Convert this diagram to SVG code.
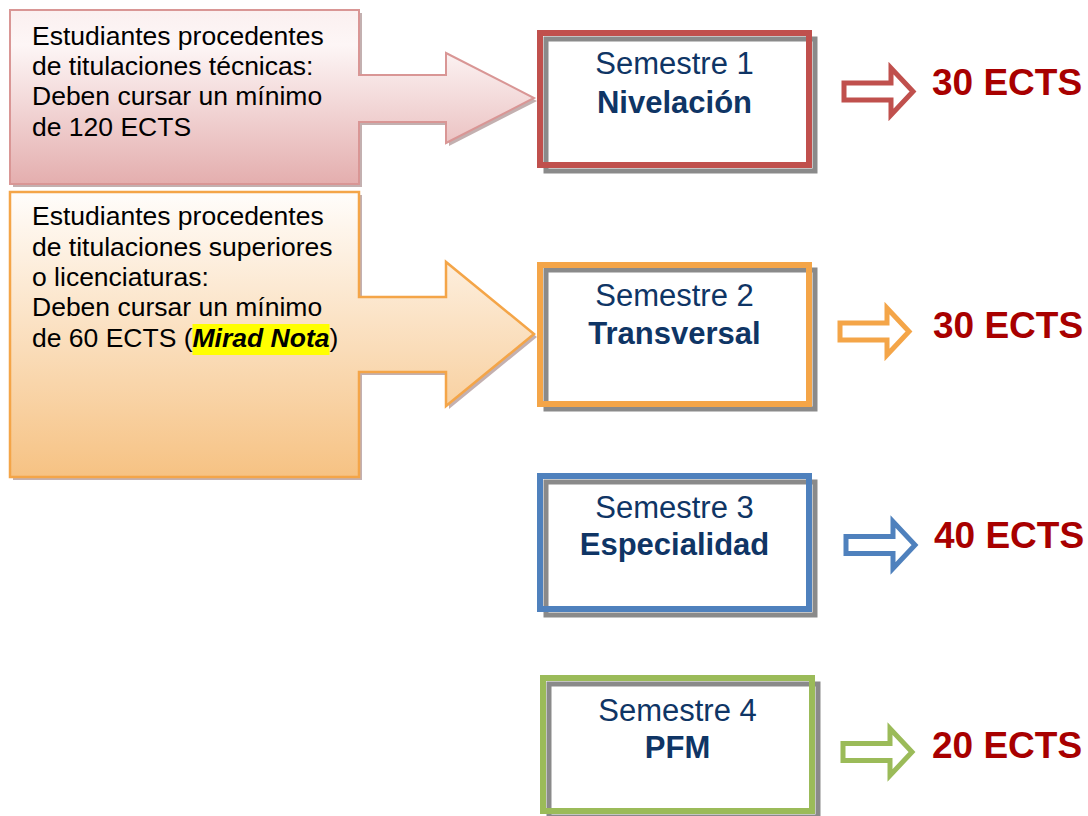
<svg xmlns="http://www.w3.org/2000/svg" xmlns:xlink="http://www.w3.org/1999/xlink" width="1088" height="816" viewBox="0 0 1088 816">
<style>
.body{font-family:"Liberation Sans",Arial,sans-serif;font-size:26.5px;fill:#000}
.sem{font-family:"Liberation Sans",Arial,sans-serif;font-size:31px;fill:#0F3565;text-anchor:middle}
.b{font-weight:bold}
.ects{font-family:"Liberation Sans",Arial,sans-serif;font-size:37px;font-weight:bold;fill:#A80000}
.frame{fill:none;stroke-width:6}
.shadow{fill:none;stroke:#8A8A8A;stroke-width:5}
.arr{fill:#fff;stroke-width:5;stroke-linejoin:miter}
</style>
<defs>
<linearGradient id="gPink" x1="0" y1="0" x2="0" y2="1">
<stop offset="0" stop-color="#FBF0F0"/>
<stop offset="0.2" stop-color="#FDF6F6"/>
<stop offset="1" stop-color="#E4AEAE"/>
</linearGradient>
<linearGradient id="gOrange" x1="0" y1="0" x2="0" y2="1">
<stop offset="0" stop-color="#FFFDFB"/>
<stop offset="1" stop-color="#F6C283"/>
</linearGradient>
<path id="arr" d="M2,-8.5 H49 V-23.5 L71,0 L49,23.5 V8.5 H2 Z"/>
</defs>
<rect width="1088" height="816" fill="#fff"/>

<g id="callout1">
<path d="M10,10 H359 V75 H446 V53 L534,98 L446,143 V122 H359 V184 H10 Z" transform="translate(3,3)" fill="#A98F8F" opacity="0.7"/>
<path d="M10,10 H359 V75 H446 V53 L534,98 L446,143 V122 H359 V184 H10 Z" fill="url(#gPink)" stroke="#D99695" stroke-width="2"/>
<text class="body" x="32" y="45">Estudiantes procedentes</text>
<text class="body" x="32" y="75">de titulaciones técnicas:</text>
<text class="body" x="32" y="105">Deben cursar un mínimo</text>
<text class="body" x="32" y="136">de 120 ECTS</text>
</g>

<g id="callout2">
<path d="M10,192 H359 V297 H446 V262 L534,334 L446,406 V372 H359 V477 H10 Z" transform="translate(3,3)" fill="#A98F8F" opacity="0.7"/>
<path d="M10,192 H359 V297 H446 V262 L534,334 L446,406 V372 H359 V477 H10 Z" fill="url(#gOrange)" stroke="#F4A548" stroke-width="2.5"/>
<rect x="192.5" y="324" width="137" height="31" fill="#FFFF00"/>
<text class="body" x="32" y="225">Estudiantes procedentes</text>
<text class="body" x="32" y="256">de titulaciones superiores</text>
<text class="body" x="32" y="286">o licenciaturas:</text>
<text class="body" x="32" y="316">Deben cursar un mínimo</text>
<text class="body" x="32" y="347">de 60 ECTS (<tspan font-weight="bold" font-style="italic">Mirad Nota</tspan>)</text>
</g>

<g id="sem1">
<rect class="shadow" x="546" y="39" width="269" height="132" stroke="#BDBDBD"/>
<rect class="frame" x="540" y="33" width="269" height="132" stroke="#C0504D"/>
<text class="sem" x="674.5" y="74">Semestre 1</text>
<text class="sem b" x="674.5" y="113">Nivelación</text>
</g>

<g id="sem2">
<rect class="shadow" x="546" y="270" width="269" height="139"/>
<rect class="frame" x="540" y="265" width="269" height="139" stroke="#F4A548"/>
<text class="sem" x="674.5" y="306">Semestre 2</text>
<text class="sem b" x="674.5" y="344">Transversal</text>
</g>

<g id="sem3">
<rect class="shadow" x="546" y="482" width="269" height="133"/>
<rect class="frame" x="540" y="476" width="269" height="133" stroke="#4F81BD"/>
<text class="sem" x="674.5" y="518">Semestre 3</text>
<text class="sem b" x="674.5" y="555">Especialidad</text>
</g>

<g id="sem4">
<rect class="shadow" x="549" y="684" width="269" height="133"/>
<rect class="frame" x="543" y="678" width="269" height="133" stroke="#9BBB59"/>
<text class="sem" x="677.5" y="721">Semestre 4</text>
<text class="sem b" x="677.5" y="758">PFM</text>
</g>

<g id="connectors">
<use xlink:href="#arr" class="arr" stroke="#C0504D" transform="translate(842,91.5)"/>
<use xlink:href="#arr" class="arr" stroke="#F4A548" transform="translate(838,331.5)"/>
<use xlink:href="#arr" class="arr" stroke="#4F81BD" transform="translate(844,545)"/>
<use xlink:href="#arr" class="arr" stroke="#9BBB59" transform="translate(841,752)"/>
</g>

<g id="ects-labels">
<text class="ects" x="932" y="95">30 ECTS</text>
<text class="ects" x="933" y="338">30 ECTS</text>
<text class="ects" x="934" y="548">40 ECTS</text>
<text class="ects" x="932" y="758">20 ECTS</text>
</g>
</svg>
